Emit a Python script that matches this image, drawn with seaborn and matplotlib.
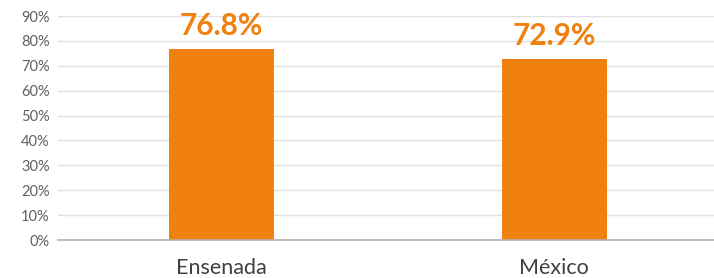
import matplotlib
matplotlib.use("Agg")
import matplotlib.pyplot as plt
import seaborn as sns
import pandas as pd
from matplotlib.ticker import PercentFormatter, MultipleLocator

categories = ["Ensenada", "México"]
values = [76.8, 72.9]
value_labels = ["76.8%", "72.9%"]

sns.set_theme(style="white")
plt.rcParams['font.family'] = ['Lato', 'DejaVu Sans']

orange = "#F0800F"
df = pd.DataFrame({"cat": categories, "val": values})

fig = plt.figure(figsize=(7.14, 2.78), dpi=100)
ax = fig.add_axes([58/714, 1-240/278, 1-58/714, (240-16)/278])
sns.barplot(data=df, x="cat", y="val", color=orange, width=0.315, ax=ax, saturation=1)
for p in ax.patches:
    p.set_edgecolor("none")

ax.set_ylim(0, 90)
ax.set_xlim(-0.49, 1.48)
ax.yaxis.set_major_locator(MultipleLocator(10))
ax.yaxis.set_major_formatter(PercentFormatter(decimals=0))
ax.grid(axis="y", color="#e0e0e0", linewidth=1)
ax.set_axisbelow(True)
for s in ["top", "right", "left"]:
    ax.spines[s].set_visible(False)
ax.spines["bottom"].set_color("#b0b0b0")
ax.spines["bottom"].set_linewidth(1.2)
ax.set_xlabel("")
ax.set_ylabel("")
ax.tick_params(axis="y", labelsize=10.5, colors="#606060", length=0, pad=6)
ax.tick_params(axis="x", labelsize=15.5, colors="#404040", length=0, pad=13)

for i, (v, lab) in enumerate(zip(values, value_labels)):
    ax.text(i, v + 3.5, lab, ha="center", va="bottom", color=orange,
            fontsize=21.5, fontweight="bold", clip_on=False)

fig.savefig("out.png", dpi=100)
